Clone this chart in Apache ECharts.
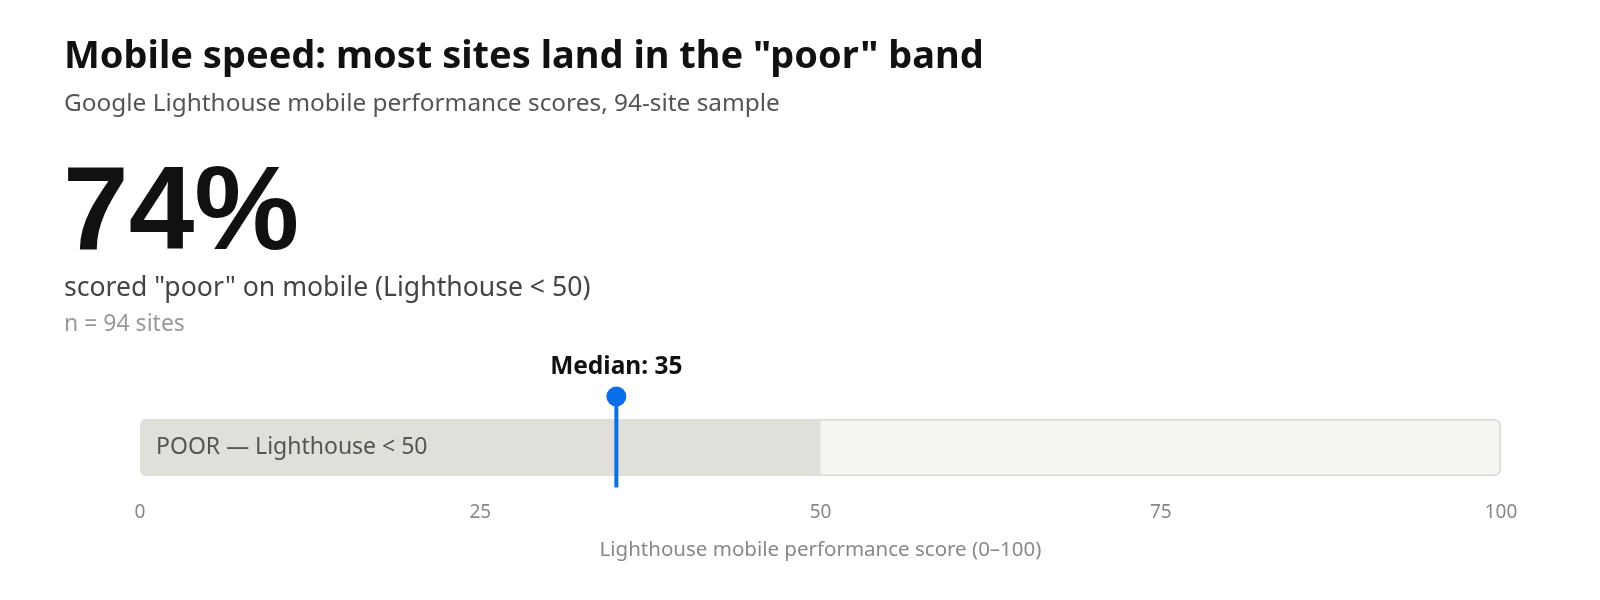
<!DOCTYPE html>
<html>
<head>
<meta charset="utf-8">
<script src="https://cdn.jsdelivr.net/npm/echarts@6/dist/echarts.min.js"></script>
<style>
  html, body { margin: 0; padding: 0; background: #fff; }
  #main { width: 1600px; height: 600px; }
</style>
</head>
<body>
<div id="main"></div>
<script>
// data
var rowName = ["score"];
var trackMax = [100];
var poorBand = [50];
var poorLabel = "POOR \u2014 Lighthouse < 50";
var medianScore = [35];
var headline = "74%";
var sampleSize = 94;

var FONT = "'Noto Sans', 'Open Sans', sans-serif";

var chart = echarts.init(document.getElementById("main"));

chart.setOption({
    backgroundColor: "#fff",
    animation: false,
    grid: { left: 140, right: 99, top: 419, height: 57 },
    xAxis: {
        type: "value",
        min: 0,
        max: 100,
        interval: 25,
        axisLine: { show: false },
        axisTick: { show: false },
        splitLine: { show: false },
        axisLabel: { margin: 27, fontSize: 19, color: "#888", fontFamily: FONT },
        name: "Lighthouse mobile performance score (0\u2013100)",
        nameLocation: "middle",
        nameGap: 64,
        nameTextStyle: { fontSize: 20.5, color: "#888", fontFamily: FONT }
    },
    yAxis: {
        type: "category",
        data: rowName,
        show: false
    },
    graphic: [
        { type: "text", x: 64, y: 57, style: { text: 'Mobile speed: most sites land in the "poor" band',
            font: "bold 38px " + FONT, fill: "#111", verticalAlign: "middle" } },
        { type: "text", x: 64, y: 104, style: { text: "Google Lighthouse mobile performance scores, " + sampleSize + "-site sample",
            font: "24.4px " + FONT, fill: "#555", verticalAlign: "middle" } },
        { type: "text", x: 63, y: 216, style: { text: headline,
            font: "bold 118px 'Liberation Sans', Arial, sans-serif", fill: "#111", verticalAlign: "middle" } },
        { type: "text", x: 64, y: 288, style: { text: 'scored "poor" on mobile (Lighthouse < 50)',
            font: "26.6px " + FONT, fill: "#444", verticalAlign: "middle" } },
        { type: "text", x: 64, y: 324, style: { text: "n = " + sampleSize + " sites",
            font: "23px " + FONT, fill: "#999", verticalAlign: "middle" } }
    ],
    series: [
        {
            type: "bar",
            data: trackMax,
            barWidth: 57,
            barGap: "-100%",
            silent: true,
            itemStyle: { color: "#f5f5f2", borderColor: "#d8d8d4", borderWidth: 1.5, borderRadius: 6 },
            z: 1
        },
        {
            type: "bar",
            data: poorBand,
            barWidth: 57,
            silent: true,
            itemStyle: { color: "#e0dfda", borderRadius: [6, 0, 0, 6] },
            label: {
                show: true,
                position: "insideLeft",
                distance: 16,
                formatter: poorLabel,
                fontSize: 23,
                color: "#555",
                fontFamily: FONT
            },
            z: 2
        },
        {
            type: "custom",
            data: medianScore.map(function (v) { return [v, 0]; }),
            z: 5,
            renderItem: function (params, api) {
                var p = api.coord([api.value(0), 0]);
                var x = p[0], cy = p[1];
                return {
                    type: "group",
                    children: [
                        { type: "line", shape: { x1: x, y1: cy - 51, x2: x, y2: cy + 40 },
                          style: { stroke: "#0a6fe8", lineWidth: 4 } },
                        { type: "circle", shape: { cx: x, cy: cy - 51, r: 10 },
                          style: { fill: "#0a6fe8" } },
                        { type: "text", x: x, y: cy - 80,
                          style: { text: "Median: " + api.value(0), font: "bold 24.5px " + FONT,
                                   fill: "#111", align: "center", verticalAlign: "middle" } }
                    ]
                };
            }
        }
    ]
});
</script>
</body>
</html>
